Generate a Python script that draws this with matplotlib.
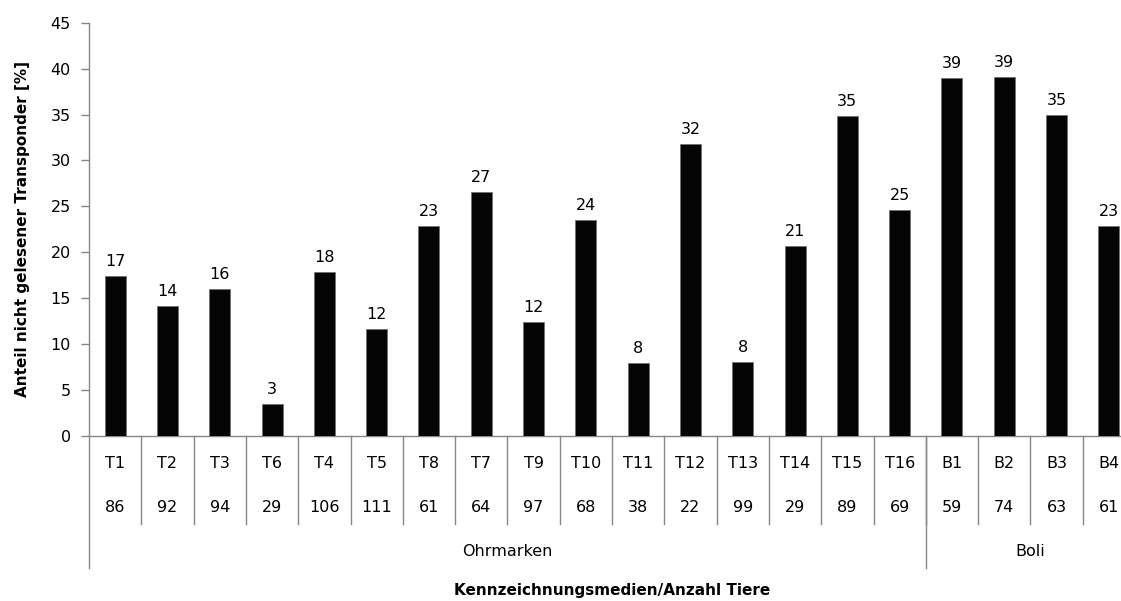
import matplotlib
matplotlib.use("Agg")
import matplotlib.pyplot as plt
from matplotlib.transforms import blended_transform_factory

# ---- data ----
categories = ["T1", "T2", "T3", "T6", "T4", "T5", "T8", "T7", "T9", "T10",
              "T11", "T12", "T13", "T14", "T15", "T16", "B1", "B2", "B3", "B4"]
animal_counts = ["86", "92", "94", "29", "106", "111", "61", "64", "97", "68",
                 "38", "22", "99", "29", "89", "69", "59", "74", "63", "61"]
values = [17.4, 14.1, 15.95, 3.4, 17.85, 11.6, 22.9, 26.6, 12.35, 23.55,
          7.9, 31.8, 8.05, 20.7, 34.85, 24.6, 39.0, 39.15, 35.0, 22.9]
groups = ["Ohrmarken", "Boli"]
group_sizes = [16, 4]
y_label = "Anteil nicht gelesener Transponder [%]"
x_label = "Kennzeichnungsmedien/Anzahl Tiere"

W, H = 1121, 601
plt.rcParams['font.family'] = ['DejaVu Sans']
fig = plt.figure(figsize=(W / 100, H / 100), dpi=100)
fig.patch.set_facecolor("white")

ax_left, ax_right = 89, 1135
ax_top, ax_bot = 23, 435.5
ax = fig.add_axes([ax_left / W, 1 - ax_bot / H, (ax_right - ax_left) / W, (ax_bot - ax_top) / H])

gray = "#868686"
fs = 11.5
n = len(categories)
x = list(range(n))
ax.bar(x, values, width=0.40, color="#050505", edgecolor="#6e6e6e", linewidth=0.5, zorder=3)

for i, v in enumerate(values):
    ax.annotate(f"{v:.0f}", (i, v), xytext=(0, 5), textcoords="offset points",
                ha="center", va="bottom", fontsize=fs, color="black")

ax.set_xlim(-0.5, n - 0.5)
ax.set_ylim(0, 45)
ax.set_yticks(range(0, 46, 5))
ax.tick_params(axis="y", length=6, width=1, color=gray, pad=7, labelsize=fs, labelcolor="black")
ax.set_xticks([])
for s in ["top", "right"]:
    ax.spines[s].set_visible(False)
for s in ["left", "bottom"]:
    ax.spines[s].set_color(gray)
    ax.spines[s].set_linewidth(1.0)

tr = blended_transform_factory(ax.transData, fig.transFigure)

def fy(py):
    return 1 - py / H

# category and count labels
for i in x:
    ax.text(i, fy(464), categories[i], transform=tr, ha="center", va="center", fontsize=fs)
    ax.text(i, fy(507), animal_counts[i], transform=tr, ha="center", va="center", fontsize=fs)

# short dividers
for i in range(1, n):
    ax.plot([i - 0.5, i - 0.5], [fy(ax_bot), fy(524)], transform=tr, color=gray,
            lw=1.0, clip_on=False)

# group dividers and labels
start = 0
for g, size in zip(groups, group_sizes):
    ax.plot([start - 0.5, start - 0.5], [fy(ax_bot), fy(568)], transform=tr, color=gray,
            lw=1.0, clip_on=False)
    ax.text(start + (size - 1) / 2, fy(551), g, transform=tr, ha="center", va="center", fontsize=fs)
    start += size
ax.plot([start - 0.5, start - 0.5], [fy(ax_bot), fy(568)], transform=tr, color=gray,
        lw=1.0, clip_on=False)

fig.text(23 / W, fy(229), y_label, rotation=90, ha="center", va="center",
         fontsize=11, fontweight="bold")
fig.text(((ax_left + ax_right) / 2) / W, fy(590), x_label, ha="center", va="center",
         fontsize=11, fontweight="bold")

fig.savefig("out.png", dpi=100, facecolor="white")
